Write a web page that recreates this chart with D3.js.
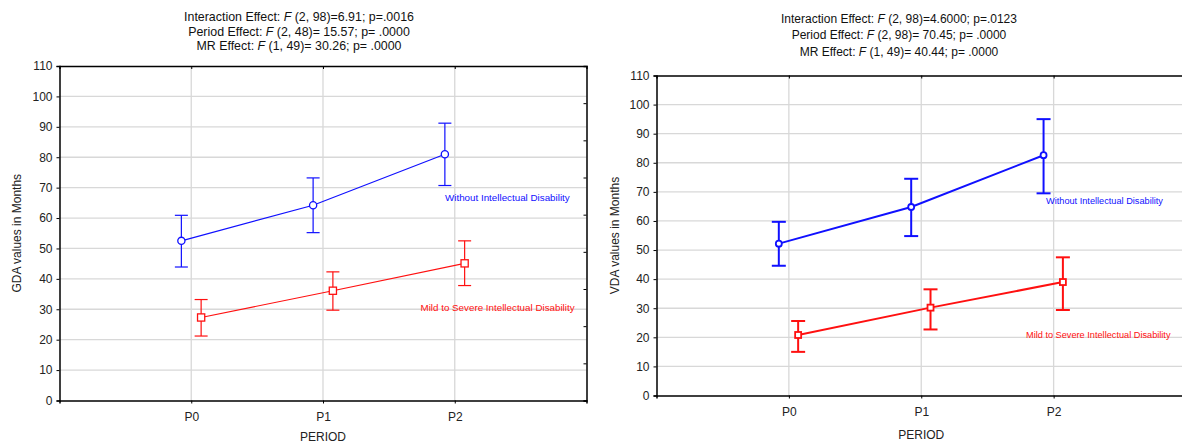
<!DOCTYPE html>
<html>
<head>
<meta charset="utf-8">
<script src="https://cdn.jsdelivr.net/npm/d3@7"></script>
<style>
  body { margin: 0; background: #fff; }
  svg { display: block; font-family: "Liberation Sans", Arial, sans-serif; }
</style>
</head>
<body>
<svg id="chart" width="1182" height="443"></svg>
<script>
// categories
const periods = ["P0", "P1", "P2"];
const yTicks = [0, 10, 20, 30, 40, 50, 60, 70, 80, 90, 100, 110];

// GDA panel (mean, lower, upper)
const gdaWithout = [52.5, 64.2, 81.0];
const gdaWithoutLo = [43.9, 55.2, 70.7];
const gdaWithoutHi = [60.9, 73.2, 91.2];
const gdaMild = [27.3, 36.1, 45.1];
const gdaMildLo = [21.2, 29.7, 37.8];
const gdaMildHi = [33.2, 42.3, 52.5];

// VDA panel
const vdaWithout = [52.2, 64.8, 82.6];
const vdaWithoutLo = [44.6, 54.8, 69.5];
const vdaWithoutHi = [59.7, 74.5, 95.0];
const vdaMild = [20.8, 30.2, 39.0];
const vdaMildLo = [15.0, 22.7, 29.4];
const vdaMildHi = [25.6, 36.5, 47.5];

const seriesNames = ["Without Intellectual Disability", "Mild to Severe Intellectual Disability"];

const gdaTitle = [
    ["Interaction Effect: ", "F", " (2, 98)=6.91; p=.0016"],
    ["Period Effect: ", "F", " (2, 48)= 15.57; p= .0000"],
    ["MR Effect: ", "F", " (1, 49)= 30.26; p= .0000"]
];
const vdaTitle = [
    ["Interaction Effect: ", "F", " (2, 98)=4.6000; p=.0123"],
    ["Period Effect: ", "F", " (2, 98)= 70.45; p= .0000"],
    ["MR Effect: ", "F", " (1, 49)= 40.44; p= .0000"]
];

const svg = d3.select("#chart");

function pack(m, lo, hi) {
    return m.map((v, i) => ({ i: i, v: v, lo: lo[i], hi: hi[i] }));
}

function drawPanel(cfg) {
    const g = svg.append("g");
    const x = d3.scaleLinear().domain([-1, 3]).range([cfg.left, cfg.right]);
    const y = d3.scaleLinear().domain([0, 110]).range([cfg.bottom, cfg.top]);

    // grid
    g.append("g").selectAll("line").data(yTicks.slice(1, -1)).join("line")
        .attr("x1", cfg.left).attr("x2", cfg.right)
        .attr("y1", d => y(d)).attr("y2", d => y(d))
        .attr("stroke", "#d8d8d8").attr("stroke-width", 1.3);
    g.append("g").selectAll("line").data(periods).join("line")
        .attr("x1", (d, i) => x(i)).attr("x2", (d, i) => x(i))
        .attr("y1", cfg.top).attr("y2", cfg.bottom)
        .attr("stroke", "#d8d8d8").attr("stroke-width", 1.3);

    // axes
    const yAxis = g.append("g").attr("transform", `translate(${cfg.left},0)`)
        .call(d3.axisLeft(y).tickValues(yTicks).tickSize(3).tickPadding(4));
    yAxis.select(".domain").attr("stroke-width", 1.5);
    yAxis.selectAll("text").attr("font-size", 12).attr("fill", "#222").attr("font-family", "Liberation Sans, Arial");

    const xAxis = g.append("g").attr("transform", `translate(0,${cfg.bottom})`)
        .call(d3.axisBottom(x).tickValues([0, 1, 2]).tickFormat(i => periods[i]).tickSize(3).tickPadding(9));
    xAxis.select(".domain").attr("stroke-width", 1.5);
    xAxis.selectAll("text").attr("font-size", 12).attr("fill", "#222").attr("font-family", "Liberation Sans, Arial");

    const topAxis = g.append("g").attr("transform", `translate(0,${cfg.top})`)
        .call(d3.axisBottom(x).tickValues([0, 1, 2]).tickFormat("").tickSize(3));
    topAxis.select(".domain").attr("stroke-width", 1.5);

    const yr = d3.scaleLinear().domain([0, 9]).range([cfg.bottom, cfg.top]);
    const rightAxis = g.append("g").attr("transform", `translate(${cfg.right},0)`)
        .call(d3.axisLeft(yr).ticks(9).tickFormat("").tickSize(3));
    rightAxis.select(".domain").attr("stroke-width", 1.5);

    // axis titles
    g.append("text")
        .attr("transform", `translate(${cfg.ylabX},${(cfg.top + cfg.bottom) / 2}) rotate(-90)`)
        .attr("text-anchor", "middle").attr("font-size", 12).attr("fill", "#222")
        .text(cfg.ylabel);
    g.append("text")
        .attr("x", x(1)).attr("y", cfg.xlabY)
        .attr("text-anchor", "middle").attr("font-size", 12).attr("fill", "#222")
        .text("PERIOD");

    // title
    cfg.title.forEach((parts, k) => {
        const t = g.append("text")
            .attr("x", cfg.titleX).attr("y", cfg.titleY + k * cfg.titleGap)
            .attr("text-anchor", "middle").attr("font-size", cfg.titleSize).attr("fill", "#111");
        parts.forEach((p, j) => t.append("tspan").attr("font-style", j === 1 ? "italic" : "normal").text(p));
    });

    // series
    cfg.series.forEach(s => {
        const px = d => x(d.i + s.off);
        const sg = g.append("g").attr("stroke", s.color).attr("fill", "none");
        sg.append("path")
            .attr("d", d3.line().x(px).y(d => y(d.v))(s.data))
            .attr("stroke-width", cfg.lineW);
        const eb = sg.selectAll("g.eb").data(s.data).join("g").attr("class", "eb");
        eb.append("line").attr("x1", px).attr("x2", px)
            .attr("y1", d => y(d.lo)).attr("y2", d => y(d.hi)).attr("stroke-width", cfg.lineW);
        eb.append("line").attr("x1", d => px(d) - cfg.cap).attr("x2", d => px(d) + cfg.cap)
            .attr("y1", d => y(d.hi)).attr("y2", d => y(d.hi)).attr("stroke-width", cfg.lineW);
        eb.append("line").attr("x1", d => px(d) - cfg.cap).attr("x2", d => px(d) + cfg.cap)
            .attr("y1", d => y(d.lo)).attr("y2", d => y(d.lo)).attr("stroke-width", cfg.lineW);
        if (s.shape === "circle") {
            sg.selectAll("circle").data(s.data).join("circle")
                .attr("cx", px).attr("cy", d => y(d.v)).attr("r", cfg.mark)
                .attr("fill", "#fff").attr("stroke-width", cfg.markW);
        } else {
            sg.selectAll("rect").data(s.data).join("rect")
                .attr("x", d => px(d) - cfg.mark).attr("y", d => y(d.v) - cfg.mark)
                .attr("width", cfg.mark * 2).attr("height", cfg.mark * 2)
                .attr("fill", "#fff").attr("stroke-width", cfg.markW);
        }
        g.append("text")
            .attr("x", s.labX).attr("y", s.labY)
            .attr("font-size", cfg.labSize).attr("fill", s.color)
            .text(s.name);
    });
}

drawPanel({
    left: 59.5, right: 586.5, top: 66, bottom: 400.5,
    ylabel: "GDA values in Months", ylabX: 21, xlabY: 441,
    title: gdaTitle, titleX: 299, titleY: 21, titleGap: 14.5, titleSize: 12.4,
    lineW: 1.2, cap: 6.5, mark: 3.6, markW: 1.3, labSize: 9.8,
    series: [
        { name: seriesNames[0], color: "#1010ff", shape: "circle", off: -0.075,
          data: pack(gdaWithout, gdaWithoutLo, gdaWithoutHi), labX: 445, labY: 201 },
        { name: seriesNames[1], color: "#ff1010", shape: "square", off: 0.075,
          data: pack(gdaMild, gdaMildLo, gdaMildHi), labX: 420.5, labY: 311 }
    ]
});

drawPanel({
    left: 656.5, right: 1186, top: 75.5, bottom: 395.5,
    ylabel: "VDA values in Months", ylabX: 619, xlabY: 439,
    title: vdaTitle, titleX: 899, titleY: 22.5, titleGap: 16.7, titleSize: 12,
    lineW: 2, cap: 7, mark: 3, markW: 1.8, labSize: 9.2,
    series: [
        { name: seriesNames[0], color: "#1010ff", shape: "circle", off: -0.076,
          data: pack(vdaWithout, vdaWithoutLo, vdaWithoutHi), labX: 1046, labY: 204 },
        { name: seriesNames[1], color: "#ff1010", shape: "square", off: 0.07,
          data: pack(vdaMild, vdaMildLo, vdaMildHi), labX: 1026, labY: 338 }
    ]
});
</script>
</body>
</html>
